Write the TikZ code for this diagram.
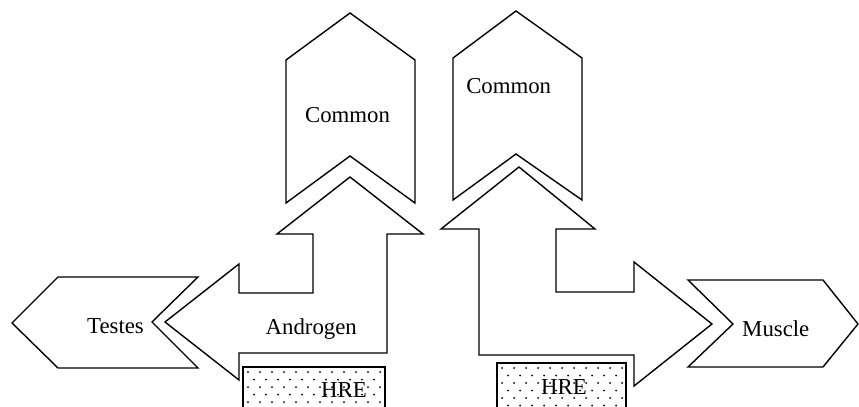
\documentclass[tikz,border=0pt]{standalone}
\usepackage{fontspec}
\setmainfont{Liberation Serif}
\usetikzlibrary{calc}

\tikzset{
    outline/.style={draw, line width=0.7pt, line join=miter, fill=white},
    lbl/.style={anchor=base, inner sep=0pt, font=\fontsize{11.4}{13}\selectfont}
}

\begin{document}
\begin{tikzpicture}[x=0.5pt,y=-0.5pt]
    \clip (0,0) rectangle (859,407);

    % upper chevrons
    \draw [outline] (350,13) -- (415,60) -- (415,203) -- (350,156) -- (286,203) -- (286,60) -- cycle;
    \draw [outline] (516,11) -- (582,58) -- (582,200) -- (516,154) -- (453,200) -- (453,58) -- cycle;

    % side chevrons
    \draw [outline] (12,323) -- (58,277) -- (198,277) -- (152,322) -- (198,368) -- (58,368) -- cycle;
    \draw [outline] (688,280) -- (823,280) -- (858,324) -- (823,367) -- (688,367) -- (733,324) -- cycle;

    % bent arrows
    \draw [outline] (350,177) -- (423,234) -- (387,234) -- (387,353) -- (239,353) -- (239,380)
        -- (165,322) -- (239,264) -- (239,293) -- (313,293) -- (313,234) -- (277,234) -- cycle;
    \draw [outline] (519,167) -- (595,229) -- (556,229) -- (556,292) -- (634,292) -- (634,262)
        -- (712,324) -- (634,386) -- (634,355) -- (479,355) -- (479,229) -- (441,229) -- cycle;

    % dotted boxes
    \foreach \xa/\ya/\xb in {243/367/385, 497/363/626}
        {
            \begin{scope}
                \clip (\xa,\ya) rectangle (\xb,412);
                \foreach \r in {0,...,6}
                    \foreach \c in {0,...,12}
                        \fill ({\xa+5+12*\c+6*mod(\r,2)}, {\ya+5+7.5*\r}) circle (0.5pt);
            \end{scope}
            \draw [line width=0.7pt] (\xa,412) -- (\xa,\ya) -- (\xb,\ya) -- (\xb,412);
        }

    % labels
    \node (common1) at (347.5,122) [lbl] {Common};
    \node (common2) at (508.7,93.5) [lbl] {Common};
    \node (testes) at (115.5,333) [lbl] {Testes};
    \node (androgen) at (311.3,335) [lbl] {Androgen};
    \node (muscle) at (775.8,336) [lbl] {Muscle};
    \node (hre1) at (344,397) [lbl] {HRE};
    \node (hre2) at (564,394) [lbl] {HRE};
\end{tikzpicture}
\end{document}
